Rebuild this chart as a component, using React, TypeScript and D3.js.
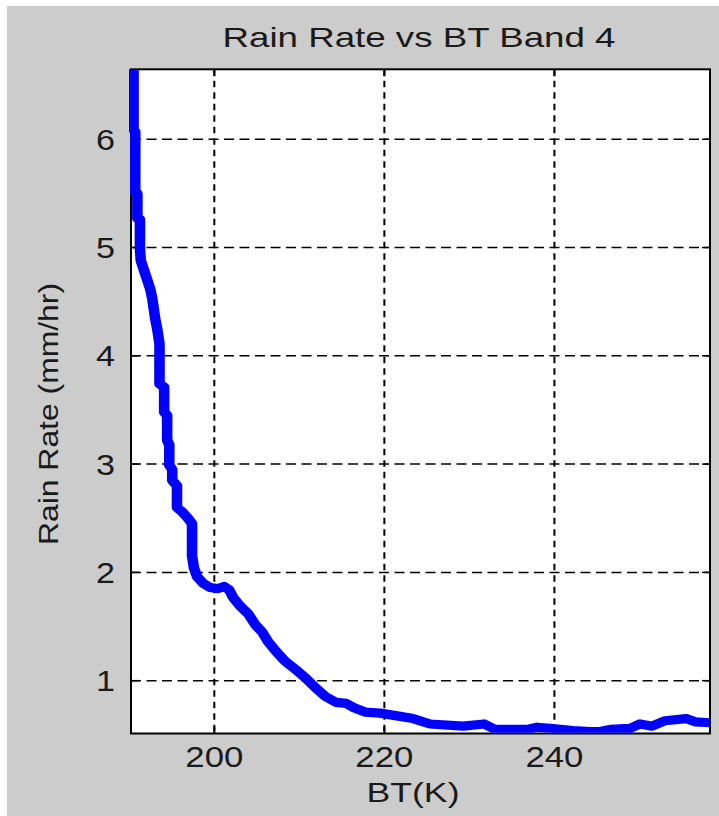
import React from "react";
import * as d3 from "d3";

const TITLE = "Rain Rate vs BT Band 4";
const X_LABEL = "BT(K)";
const Y_LABEL = "Rain Rate (mm/hr)";

const xTicks = [200, 220, 240];
const yTicks = [1, 2, 3, 4, 5, 6];

const btValues = [
  190.5, 190.5, 190.7, 190.7, 190.95, 190.95, 191.25, 191.25, 191.35, 191.9,
  192.45, 192.7, 193.05, 193.3, 193.55, 193.55, 194.1, 194.1, 194.45, 194.45,
  194.7, 194.7, 195.05, 195.05, 195.61, 195.61, 196.2, 196.79, 197.38, 197.38,
  197.61, 197.97, 198.67, 199.49, 200.44, 201.14, 201.73, 202.2, 203.02, 203.96,
  204.79, 205.61, 206.32, 207.26, 208.32, 209.61, 210.79, 211.96, 213.14, 214.32,
  215.49, 216.43, 217.73, 219.49, 221.85, 223.38, 225.38, 229.26, 231.73, 233.02,
  236.79, 237.96, 239.49, 242.2, 244.2, 245.38, 246.55, 248.9, 250.08, 251.49,
  253.02, 255.49, 256.55, 258.55,
];
const rainRates = [
  6.7, 6.09, 6.07, 5.51, 5.5, 5.27, 5.26, 4.99, 4.88, 4.75,
  4.62, 4.53, 4.34, 4.24, 4.11, 3.74, 3.71, 3.48, 3.45, 3.22,
  3.18, 2.99, 2.95, 2.85, 2.8, 2.6, 2.56, 2.51, 2.45, 2.15,
  2.04, 1.96, 1.9, 1.86, 1.85, 1.87, 1.84, 1.77, 1.69, 1.62,
  1.52, 1.45, 1.36, 1.27, 1.18, 1.1, 1.02, 0.93, 0.85, 0.8,
  0.79, 0.75, 0.71, 0.7, 0.67, 0.65, 0.6, 0.58, 0.6, 0.55,
  0.55, 0.57, 0.56, 0.54, 0.53, 0.53, 0.55, 0.56, 0.6, 0.58,
  0.63, 0.65, 0.62, 0.61,
];

const W = 719;
const H = 816;
const PL = 131;
const PR = 710;
const PT = 69.3;
const PB = 733.5;
const SX = 1.15;

export default function App() {
  const x = d3.scaleLinear().domain([190.2, 258.3]).range([PL, PR]);
  const y = d3.scaleLinear().domain([0.512, 6.646]).range([PB, PT]);
  const pts = btValues.map((b, i) => [b, rainRates[i]] as [number, number]);
  const line = d3
    .line<[number, number]>()
    .x((d) => x(d[0]) / SX)
    .y((d) => y(d[1]));
  const font = "'Liberation Sans', Arial, sans-serif";
  const txt = "#1a1a1a";

  return (
    <svg
      width={W}
      height={H}
      style={{ position: "absolute", left: 0, top: 0, display: "block" }}
    >
      <rect x={0} y={0} width={W} height={H} fill="#ffffff" />
      <rect x={7} y={6} width={W - 7} height={H - 6} fill="#cccccc" />
      <rect x={PL} y={PT} width={PR - PL} height={PB - PT} fill="#ffffff" />
      <defs>
        <clipPath id="plotclip">
          <rect x={PL - 2} y={PT} width={PR - PL + 2} height={PB - PT - 0.8} />
        </clipPath>
      </defs>
      {xTicks.map((t) => (
        <line
          key={"gx" + t}
          x1={x(t)}
          x2={x(t)}
          y1={PT}
          y2={PB}
          stroke="#000"
          strokeWidth={2}
          strokeDasharray="6.5 5"
        />
      ))}
      {yTicks.map((t) => (
        <line
          key={"gy" + t}
          x1={PL}
          x2={PR}
          y1={y(t)}
          y2={y(t)}
          stroke="#000"
          strokeWidth={1.5}
          strokeDasharray="10 5.5"
        />
      ))}
      <rect
        x={PL}
        y={PT}
        width={PR - PL}
        height={PB - PT}
        fill="none"
        stroke="#000"
        strokeWidth={2}
      />
      {xTicks.map((t) => (
        <g key={"tx" + t}>
          <line x1={x(t)} x2={x(t)} y1={PB} y2={PB - 7} stroke="#000" strokeWidth={2} />
          <line x1={x(t)} x2={x(t)} y1={PT} y2={PT + 7} stroke="#000" strokeWidth={2} />
        </g>
      ))}
      {yTicks.map((t) => (
        <g key={"ty" + t}>
          <line x1={PL} x2={PL + 8} y1={y(t)} y2={y(t)} stroke="#000" strokeWidth={1.5} />
          <line x1={PR} x2={PR - 8} y1={y(t)} y2={y(t)} stroke="#000" strokeWidth={1.5} />
        </g>
      ))}
      <g clipPath="url(#plotclip)">
        <g transform={`scale(${SX},1)`}>
          <path
            d={line(pts) || ""}
            fill="none"
            stroke="#0000ff"
            strokeWidth={9.2}
            strokeLinejoin="round"
            strokeLinecap="square"
          />
        </g>
      </g>
      {xTicks.map((t) => (
        <text
          key={"lx" + t}
          x={x(t)}
          y={767}
          textAnchor="middle"
          fontFamily={font}
          fontSize={29}
          textLength={58}
          lengthAdjust="spacingAndGlyphs"
          fill={txt}
        >
          {t}
        </text>
      ))}
      {yTicks.map((t) => (
        <text
          key={"ly" + t}
          x={96}
          y={y(t) + 10.5}
          textAnchor="start"
          fontFamily={font}
          fontSize={29}
          textLength={19}
          lengthAdjust="spacingAndGlyphs"
          fill={txt}
        >
          {t}
        </text>
      ))}
      <text
        x={419}
        y={47}
        textAnchor="middle"
        fontFamily={font}
        fontSize={28}
        textLength={393}
        lengthAdjust="spacingAndGlyphs"
        fill={txt}
      >
        {TITLE}
      </text>
      <text
        x={413}
        y={802}
        textAnchor="middle"
        fontFamily={font}
        fontSize={27}
        textLength={93}
        lengthAdjust="spacingAndGlyphs"
        fill={txt}
      >
        {X_LABEL}
      </text>
      <text
        transform={`translate(58, 414) rotate(-90)`}
        textAnchor="middle"
        fontFamily={font}
        fontSize={27}
        textLength={262}
        lengthAdjust="spacingAndGlyphs"
        fill={txt}
      >
        {Y_LABEL}
      </text>
    </svg>
  );
}
